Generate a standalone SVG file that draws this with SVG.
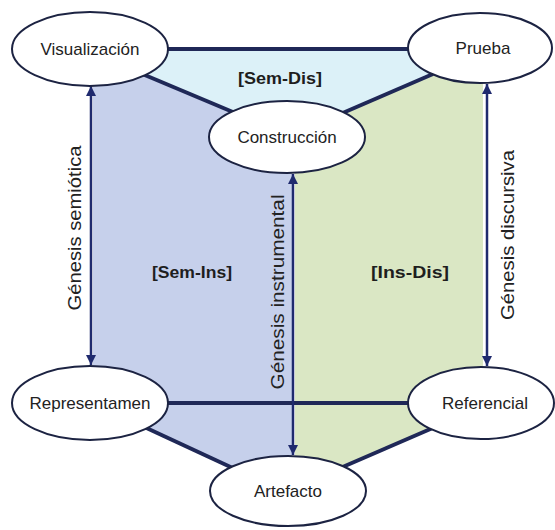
<svg xmlns="http://www.w3.org/2000/svg" width="555" height="530" viewBox="0 0 555 530">
<style>
.node{fill:#ffffff;stroke:#1c2342;stroke-width:2}
.lbl{font-family:"Liberation Sans",Arial,sans-serif;font-size:17px;fill:#222;text-anchor:middle}
.edge{stroke:#1f2857;stroke-width:4;fill:none}
.gen{stroke:#1f2a6e;stroke-width:2.5;fill:none;marker-start:url(#ah);marker-end:url(#ah)}
.glbl{font-family:"Liberation Sans",Arial,sans-serif;font-size:18px;fill:#222;text-anchor:middle}
.zone{font-family:"Liberation Sans",Arial,sans-serif;font-size:16px;font-weight:bold;fill:#1e1e1e;text-anchor:middle}
</style>
<defs>
<marker id="ah" viewBox="0 0 10 10" refX="10" refY="5" markerWidth="4" markerHeight="4" orient="auto-start-reverse" markerUnits="strokeWidth">
<path d="M0,0 L10,5 L0,10 z" fill="#1f2a6e"/>
</marker>
</defs>
<rect width="555" height="530" fill="#ffffff"/>
<g id="regions">
<polygon points="145,49 430,49 428,76 345,112 287,120 233,112 145,75" fill="#dcf1f8"/>
<polygon points="93,53 292,137 292,496 93,403" fill="#c6d0eb"/>
<polygon points="295,133 483,52 483,406 295,487" fill="#dae7c4"/>
</g>
<g id="connectors">
<line class="edge" x1="160" y1="49" x2="415" y2="49"/>
<line class="edge" x1="140" y1="73" x2="240" y2="115"/>
<line class="edge" x1="433" y1="74" x2="338" y2="115"/>
<line class="edge" x1="160" y1="403" x2="415" y2="403"/>
<line class="edge" x1="140" y1="425" x2="237" y2="470"/>
<line class="edge" x1="435" y1="427" x2="338" y2="469"/>
<line class="gen" x1="91" y1="86" x2="91" y2="365"/>
<line class="gen" x1="293" y1="174" x2="293" y2="455"/>
<line class="gen" x1="487" y1="84" x2="487" y2="366"/>
</g>
<g id="n-visualizacion"><ellipse class="node" cx="90" cy="49" rx="78" ry="37"/><text class="lbl" x="90" y="55">Visualización</text></g>
<g id="n-prueba"><ellipse class="node" cx="480" cy="48" rx="72" ry="35"/><text class="lbl" x="483" y="54">Prueba</text></g>
<g id="n-construccion"><ellipse class="node" cx="287" cy="137" rx="78" ry="36"/><text class="lbl" x="287" y="143">Construcción</text></g>
<g id="n-representamen"><ellipse class="node" cx="90" cy="403" rx="78" ry="37"/><text class="lbl" x="90" y="409">Representamen</text></g>
<g id="n-referencial"><ellipse class="node" cx="481" cy="403" rx="73" ry="36"/><text class="lbl" x="485" y="409">Referencial</text></g>
<g id="n-artefacto"><ellipse class="node" cx="288" cy="491" rx="78" ry="35"/><text class="lbl" x="288" y="497">Artefacto</text></g>
<g id="labels">
<text class="zone" x="280" y="84" textLength="84" lengthAdjust="spacingAndGlyphs">[Sem-Dis]</text>
<text class="zone" x="192" y="278" textLength="80" lengthAdjust="spacingAndGlyphs">[Sem-Ins]</text>
<text class="zone" x="410" y="278" textLength="78" lengthAdjust="spacingAndGlyphs">[Ins-Dis]</text>
<text class="glbl" transform="translate(81,228) rotate(-90)" textLength="165" lengthAdjust="spacingAndGlyphs">Génesis semiótica</text>
<text class="glbl" transform="translate(284,292) rotate(-90)" textLength="195" lengthAdjust="spacingAndGlyphs">Génesis instrumental</text>
<text class="glbl" transform="translate(514,235) rotate(-90)" textLength="170" lengthAdjust="spacingAndGlyphs">Génesis discursiva</text>
</g>
</svg>
